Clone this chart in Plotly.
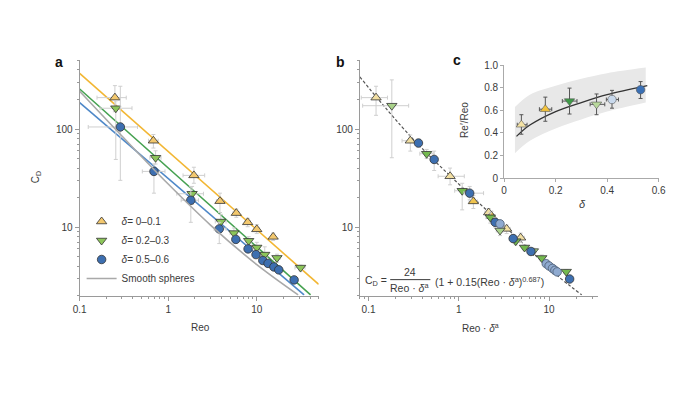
import numpy as np
import plotly.graph_objects as go

W, H = 687, 398
OFF = 8  # page body margin of the browser
FONT = "Liberation Sans, Arial, sans-serif"
TXT = "#3a3a3a"

# ---------------- Panel a data ----------------
a_y_x = [0.25, 0.68, 1.95, 3.84, 5.87, 7.89, 10.0, 15.3]
a_y_y = [209, 76, 33.7, 18.4, 13.9, 11.2, 9.5, 7.96]
a_y_yhi = [277, 88, 40.8, 22.2, 15.3, 12.3, 10.6, 8.7]
a_y_ylo = [150, 64, 28, 14.1, 12.6, 10.1, 8.6, 7.3]
a_y_xlo = [0.157, 0.60, 1.47, 3.5, 5.4, 7.3, 9.3, 14.3]
a_y_xhi = [0.336, 0.77, 2.58, 4.2, 6.3, 8.5, 10.7, 16.3]

a_g_x = [0.256, 0.72, 1.86, 3.93, 5.52, 8.1, 10.0, 12.3, 16.9, 31.2]
a_g_y = [163, 51, 21.9, 11.4, 8.7, 7.26, 6.2, 5.25, 4.86, 3.87]
a_g_yhi = [194, 60, 26, 13.5, 9.8, 8.0, 7.0, 6.3, 5.3, 4.1]
a_g_ylo = [49, 44, 17, 9.5, 7.8, 6.6, 5.6, 4.7, 4.4, 3.6]
a_g_xlo = [0.17, 0.62, 1.25, 3.4, 5.0, 7.5, 9.2, 11.2, 15.5, 27]
a_g_xhi = [0.39, 0.83, 2.5, 4.5, 6.0, 8.7, 10.8, 13.3, 18.3, 35]

a_b_x = [0.288, 0.69, 1.80, 3.77, 5.8, 7.97, 9.8, 11.7, 13.4, 15.6, 17.7, 26.4]
a_b_y = [105, 37, 18.8, 9.6, 7.5, 6.0, 5.25, 4.57, 4.27, 3.93, 3.67, 2.9]
a_b_yhi = [273, 44, 25.8, 11.2, 8.2, 6.5, 5.7, 4.9, 4.6, 4.2, 3.9, 3.1]
a_b_ylo = [30, 22.2, 11.2, 6.8, 6.9, 5.6, 4.9, 4.3, 4.0, 3.7, 3.5, 2.75]
a_b_xlo = [0.125, 0.51, 1.4, 3.3, 5.4, 7.5, 9.3, 11.1, 12.8, 14.9, 16.9, 25]
a_b_xhi = [0.45, 0.92, 2.2, 4.5, 6.2, 8.5, 10.3, 12.3, 14.0, 16.3, 18.5, 28]

line_yellow_x = [0.1, 50]
line_yellow_y = [369, 2.61]
line_green_x = [0.1, 40.5]
line_green_y = [256, 2.04]
line_blue_x = [0.1, 34.2]
line_blue_y = [186, 2.04]
smooth_x = [0.1, 0.3, 1, 3, 10, 29.3]
smooth_y = [243, 85, 27.5, 10.5, 4.15, 2.04]

legend_labels = ["<i>δ</i>= 0–0.1", "<i>δ</i>= 0.2–0.3", "<i>δ</i>= 0.5–0.6", "Smooth spheres"]

# ---------------- Panel b data ----------------
b_yl_x = [0.121, 0.29, 0.80, 2.14, 3.39, 4.84]
b_yl_y = [209, 76, 33, 14.1, 9.6, 7.8]
b_yl_yhi = [273, 87, 40, 15.5, 10.5, 8.7]
b_yl_ylo = [138, 59.6, 27, 12.5, 8.6, 7.0]
b_yl_xlo = [0.083, 0.235, 0.59, 1.95, 3.1, 4.4]
b_yl_xhi = [0.162, 0.373, 1.15, 2.35, 3.7, 5.3]

b_yo_x = [1.45, 2.3]
b_yo_y = [18.3, 13.0]
b_yo_yhi = [21, 14.5]
b_yo_ylo = [15.5, 11.5]
b_yo_xlo = [1.3, 2.1]
b_yo_xhi = [1.6, 2.5]

b_g_x = [0.44, 1.09, 2.23, 4.27, 5.35, 8.3, 15.5]
b_g_y = [56, 23.5, 12.6, 7.2, 6.2, 4.85, 3.52]
b_g_yhi = [62, 28, 14, 7.8, 6.6, 5.2, 3.7]
b_g_ylo = [50, 15, 11, 6.6, 5.8, 4.5, 3.35]
b_g_xlo = [0.37, 0.9, 2.0, 3.9, 5.0, 7.8, 14.5]
b_g_xhi = [0.52, 1.3, 2.5, 4.7, 5.7, 8.8, 16.5]

b_gl_x = [0.181, 2.86, 6.7]
b_gl_y = [173, 9.25, 5.7]
b_gl_yhi = [317, 10.5, 6.1]
b_gl_ylo = [51, 8.2, 5.3]
b_gl_xlo = [0.086, 2.6, 6.3]
b_gl_xhi = [0.278, 3.1, 7.1]

b_b_x = [0.357, 0.533, 1.32, 2.53, 4.0, 6.3, 16.9]
b_b_y = [72, 49, 22.2, 11.2, 7.65, 5.65, 2.96]
b_b_yhi = [78, 59.6, 26, 12.5, 8.2, 6.0, 3.1]
b_b_ylo = [66, 37.8, 19, 10, 7.1, 5.3, 2.8]
b_b_xlo = [0.33, 0.49, 1.14, 2.3, 3.7, 6.0, 16]
b_b_xhi = [0.385, 0.58, 1.88, 2.8, 4.3, 6.6, 17.8]

b_bl_x = [2.86, 9.3, 10.0, 10.9, 11.6, 12.3]
b_bl_y = [10.8, 4.24, 4.02, 3.8, 3.63, 3.5]

dash_x = [0.08, 0.3, 1.46, 5, 11.8, 23]
dash_y = [340, 82, 19.8, 7.0, 3.32, 2.04]

# ---------------- Panel c data ----------------
c_delta = [0.067, 0.16, 0.254, 0.359, 0.419, 0.53]
c_ratio = [0.473, 0.611, 0.683, 0.654, 0.697, 0.784]
c_ratio_hi = [0.562, 0.718, 0.798, 0.746, 0.778, 0.856]
c_ratio_lo = [0.389, 0.504, 0.568, 0.562, 0.620, 0.706]
c_delta_lo = [0.051, 0.137, 0.226, 0.334, 0.397, 0.52]
c_delta_hi = [0.089, 0.185, 0.283, 0.391, 0.444, 0.54]
c_symbols = ["triangle-up", "triangle-up", "triangle-down", "triangle-down", "circle", "circle"]
c_colors = ["#F4E2A4", "#F2C23C", "#3E9A47", "#B9D99C", "#C9D9EC", "#3A70B5"]

band_delta = [0.042, 0.1, 0.2, 0.3, 0.4, 0.55]
band_upper = [0.63, 0.74, 0.82, 0.88, 0.93, 0.98]
band_lower = [0.22, 0.33, 0.44, 0.52, 0.59, 0.67]
fit_delta = [0.048, 0.1, 0.2, 0.3, 0.4, 0.556]
fit_ratio = [0.37, 0.47, 0.59, 0.67, 0.74, 0.82]

# ---------------- colours ----------------
YEL_LINE, GRN_LINE, BLU_LINE, GRY_LINE = "#F2B633", "#45A150", "#4E88C8", "#A9A9A9"
YEL_FILL, GRN_FILL, BLU_FILL = "#F3C86E", "#8CC55A", "#3D6FB0"
EDGE = "#333333"
ERR = "#CFCFCF"


def err(y, hi, lo, color=ERR, w=2):
    y = np.array(y, float)
    return dict(type="data", symmetric=False, array=list(np.array(hi) - y),
                arrayminus=list(y - np.array(lo)), color=color, thickness=1, width=w)


fig = go.Figure()

# ---- panel a: lines ----
for lx, ly, col in [(line_yellow_x, line_yellow_y, YEL_LINE),
                    (line_green_x, line_green_y, GRN_LINE),
                    (line_blue_x, line_blue_y, BLU_LINE)]:
    fig.add_trace(go.Scatter(x=lx, y=ly, mode="lines", line=dict(color=col, width=1.6),
                             showlegend=False, xaxis="x", yaxis="y", hoverinfo="skip"))

# ---- panel a: points ----
groups_a = [
    (a_y_x, a_y_y, a_y_yhi, a_y_ylo, a_y_xhi, a_y_xlo, "triangle-up", YEL_FILL, legend_labels[0]),
    (a_g_x, a_g_y, a_g_yhi, a_g_ylo, a_g_xhi, a_g_xlo, "triangle-down", GRN_FILL, legend_labels[1]),
    (a_b_x, a_b_y, a_b_yhi, a_b_ylo, a_b_xhi, a_b_xlo, "circle", BLU_FILL, legend_labels[2]),
]
for k, (gx, gy, yhi, ylo, xhi, xlo, sym, col, name) in enumerate(groups_a):
    fig.add_trace(go.Scatter(
        x=gx, y=gy, mode="markers", name=name, legendgroup="g%d" % k,
        marker=dict(symbol=sym, size=9 if sym != "circle" else 8.5, color=col,
                    line=dict(color=EDGE, width=0.8)),
        error_y=err(gy, yhi, ylo), error_x=err(gx, xhi, xlo),
        xaxis="x", yaxis="y"))

fig.add_trace(go.Scatter(x=smooth_x, y=smooth_y, mode="lines", name=legend_labels[3], legendgroup="g3",
                         line=dict(color=GRY_LINE, width=1.6, shape="spline"),
                         xaxis="x", yaxis="y"))

# ---- panel b ----
fig.add_trace(go.Scatter(x=dash_x, y=dash_y, mode="lines", showlegend=False,
                         line=dict(color="#555555", width=1.2, dash="3px,2px", shape="spline"),
                         xaxis="x2", yaxis="y2"))
groups_b = [
    (b_yl_x, b_yl_y, b_yl_yhi, b_yl_ylo, b_yl_xhi, b_yl_xlo, "triangle-up", "#F2DFA2"),
    (b_yo_x, b_yo_y, b_yo_yhi, b_yo_ylo, b_yo_xhi, b_yo_xlo, "triangle-up", "#F0C44E"),
    (b_gl_x, b_gl_y, b_gl_yhi, b_gl_ylo, b_gl_xhi, b_gl_xlo, "triangle-down", "#A9D28A"),
    (b_g_x, b_g_y, b_g_yhi, b_g_ylo, b_g_xhi, b_g_xlo, "triangle-down", "#74B94F"),
    (b_b_x, b_b_y, b_b_yhi, b_b_ylo, b_b_xhi, b_b_xlo, "circle", "#3D6FB0"),
]
for gx, gy, yhi, ylo, xhi, xlo, sym, col in groups_b:
    fig.add_trace(go.Scatter(
        x=gx, y=gy, mode="markers", showlegend=False,
        marker=dict(symbol=sym, size=9 if sym != "circle" else 8.5, color=col,
                    line=dict(color=EDGE, width=0.8)),
        error_y=err(gy, yhi, ylo), error_x=err(gx, xhi, xlo),
        xaxis="x2", yaxis="y2"))
fig.add_trace(go.Scatter(x=b_bl_x, y=b_bl_y, mode="markers", showlegend=False,
                         marker=dict(symbol="circle", size=8.5, color="#8FAAD0",
                                     line=dict(color="#4a5a70", width=0.8)),
                         xaxis="x2", yaxis="y2"))

# ---- panel c ----
fig.add_trace(go.Scatter(x=band_delta, y=band_lower, mode="lines", line=dict(width=0, shape="spline"),
                         showlegend=False, xaxis="x3", yaxis="y3", hoverinfo="skip"))
fig.add_trace(go.Scatter(x=band_delta, y=band_upper, mode="lines", line=dict(width=0, shape="spline"),
                         fill="tonexty", fillcolor="#E8E8E8",
                         showlegend=False, xaxis="x3", yaxis="y3", hoverinfo="skip"))
fig.add_trace(go.Scatter(x=fit_delta, y=fit_ratio, mode="lines",
                         line=dict(color="#333333", width=1.3, shape="spline"),
                         showlegend=False, xaxis="x3", yaxis="y3"))
for i in range(len(c_delta)):
    fig.add_trace(go.Scatter(
        x=[c_delta[i]], y=[c_ratio[i]], mode="markers", showlegend=False,
        marker=dict(symbol=c_symbols[i], size=9 if c_symbols[i] != "circle" else 8.5,
                    color=c_colors[i], line=dict(color="#555555", width=0.6)),
        error_y=err([c_ratio[i]], [c_ratio_hi[i]], [c_ratio_lo[i]], color="#555555"),
        error_x=err([c_delta[i]], [c_delta_hi[i]], [c_delta_lo[i]], color="#555555"),
        xaxis="x3", yaxis="y3"))

# ---------------- axes ----------------
def px(x):
    return (x - OFF) / W


def py(y):
    return 1 - (y - OFF) / H


AX = "#9a9a9a"
tickfont = dict(family=FONT, size=10, color=TXT)
logaxis = dict(type="log", showgrid=False, zeroline=False, showline=True, linecolor=AX, linewidth=1,
               ticks="outside", ticklen=4, tickcolor=AX, tickwidth=1, dtick=1, tickfont=tickfont,
               minor=dict(ticks="outside", ticklen=2, tickcolor=AX, dtick="D1", showgrid=False))

fig.update_layout(
    width=W, height=H, margin=dict(l=0, r=0, t=0, b=0),
    paper_bgcolor="white", plot_bgcolor="rgba(0,0,0,0)",
    font=dict(family=FONT, size=10, color=TXT),
    xaxis=dict(logaxis, domain=[px(74), px(318)], range=[-1, np.log10(50)], anchor="y"),
    yaxis=dict(logaxis, domain=[py(298), py(56.7)], range=[np.log10(2), np.log10(500)], anchor="x"),
    xaxis2=dict(logaxis, domain=[px(360), px(603.3)], range=[np.log10(0.08), np.log10(35)], anchor="y2"),
    yaxis2=dict(logaxis, domain=[py(298), py(56.7)], range=[np.log10(2), np.log10(500)], anchor="x2"),
    xaxis3=dict(domain=[px(507.3), px(665)], range=[0, 0.6], anchor="y3", showgrid=False, zeroline=False,
                showline=True, linecolor="#aaaaaa", ticks="outside", ticklen=3, tickcolor="#aaaaaa",
                tickvals=[0, 0.2, 0.4, 0.6], ticktext=["0", "0.2", "0.4", "0.6"], tickfont=tickfont),
    yaxis3=dict(domain=[py(177.3), py(61.7)], range=[0, 1], anchor="x3", showgrid=False, zeroline=False,
                showline=True, linecolor="#aaaaaa", ticks="outside", ticklen=3, tickcolor="#aaaaaa",
                tickvals=[0, 0.2, 0.4, 0.6, 0.8, 1.0], ticktext=["0", "0.2", "0.4", "0.6", "0.8", "1.0"],
                tickfont=tickfont),
    legend=dict(x=px(76), y=py(207), xanchor="left", yanchor="top", bgcolor="rgba(0,0,0,0)",
                traceorder="normal", font=dict(family=FONT, size=10, color=TXT),
                itemwidth=30, tracegroupgap=1),
)

ann = []


def add_text(x, y, text, size=10, xanchor="center", color=TXT, angle=0, bold=False):
    ann.append(dict(x=px(x), y=py(y), xref="paper", yref="paper", text=("<b>%s</b>" % text) if bold else text,
                    showarrow=False, xanchor=xanchor, yanchor="middle", textangle=angle,
                    font=dict(family=FONT, size=size, color=color)))


add_text(53, 58, "a", size=14, color="#111111", bold=True)
add_text(340, 58, "b", size=14, color="#111111", bold=True)
add_text(459, 56, "c", size=14, color="#111111", bold=True)

add_text(29, 177, "C<sub>D</sub>", angle=-90)
add_text(197, 331, "Reo")
add_text(483, 331, "Reo · <i>δ</i><sup>a</sup>")
add_text(467, 118, "Re′/Reo", angle=-90)
add_text(587, 204, "<i>δ</i>", size=11)

# equation
add_text(363, 283, "C<sub>D</sub> =", size=10.5, xanchor="left")
add_text(411, 273.5, "24", size=10.5)
add_text(411, 290, "Reo · <i>δ</i><sup>a</sup>", size=10.5)
add_text(435, 283, "(1 + 0.15(Reo · <i>δ</i><sup>a</sup>)<sup>0.687</sup>)", size=10.5, xanchor="left")

fig.update_layout(annotations=ann,
                  shapes=[dict(type="line", xref="paper", yref="paper", x0=px(391), x1=px(432),
                               y0=py(281.5), y1=py(281.5), line=dict(color=TXT, width=1))])

fig.write_html("out.html")
